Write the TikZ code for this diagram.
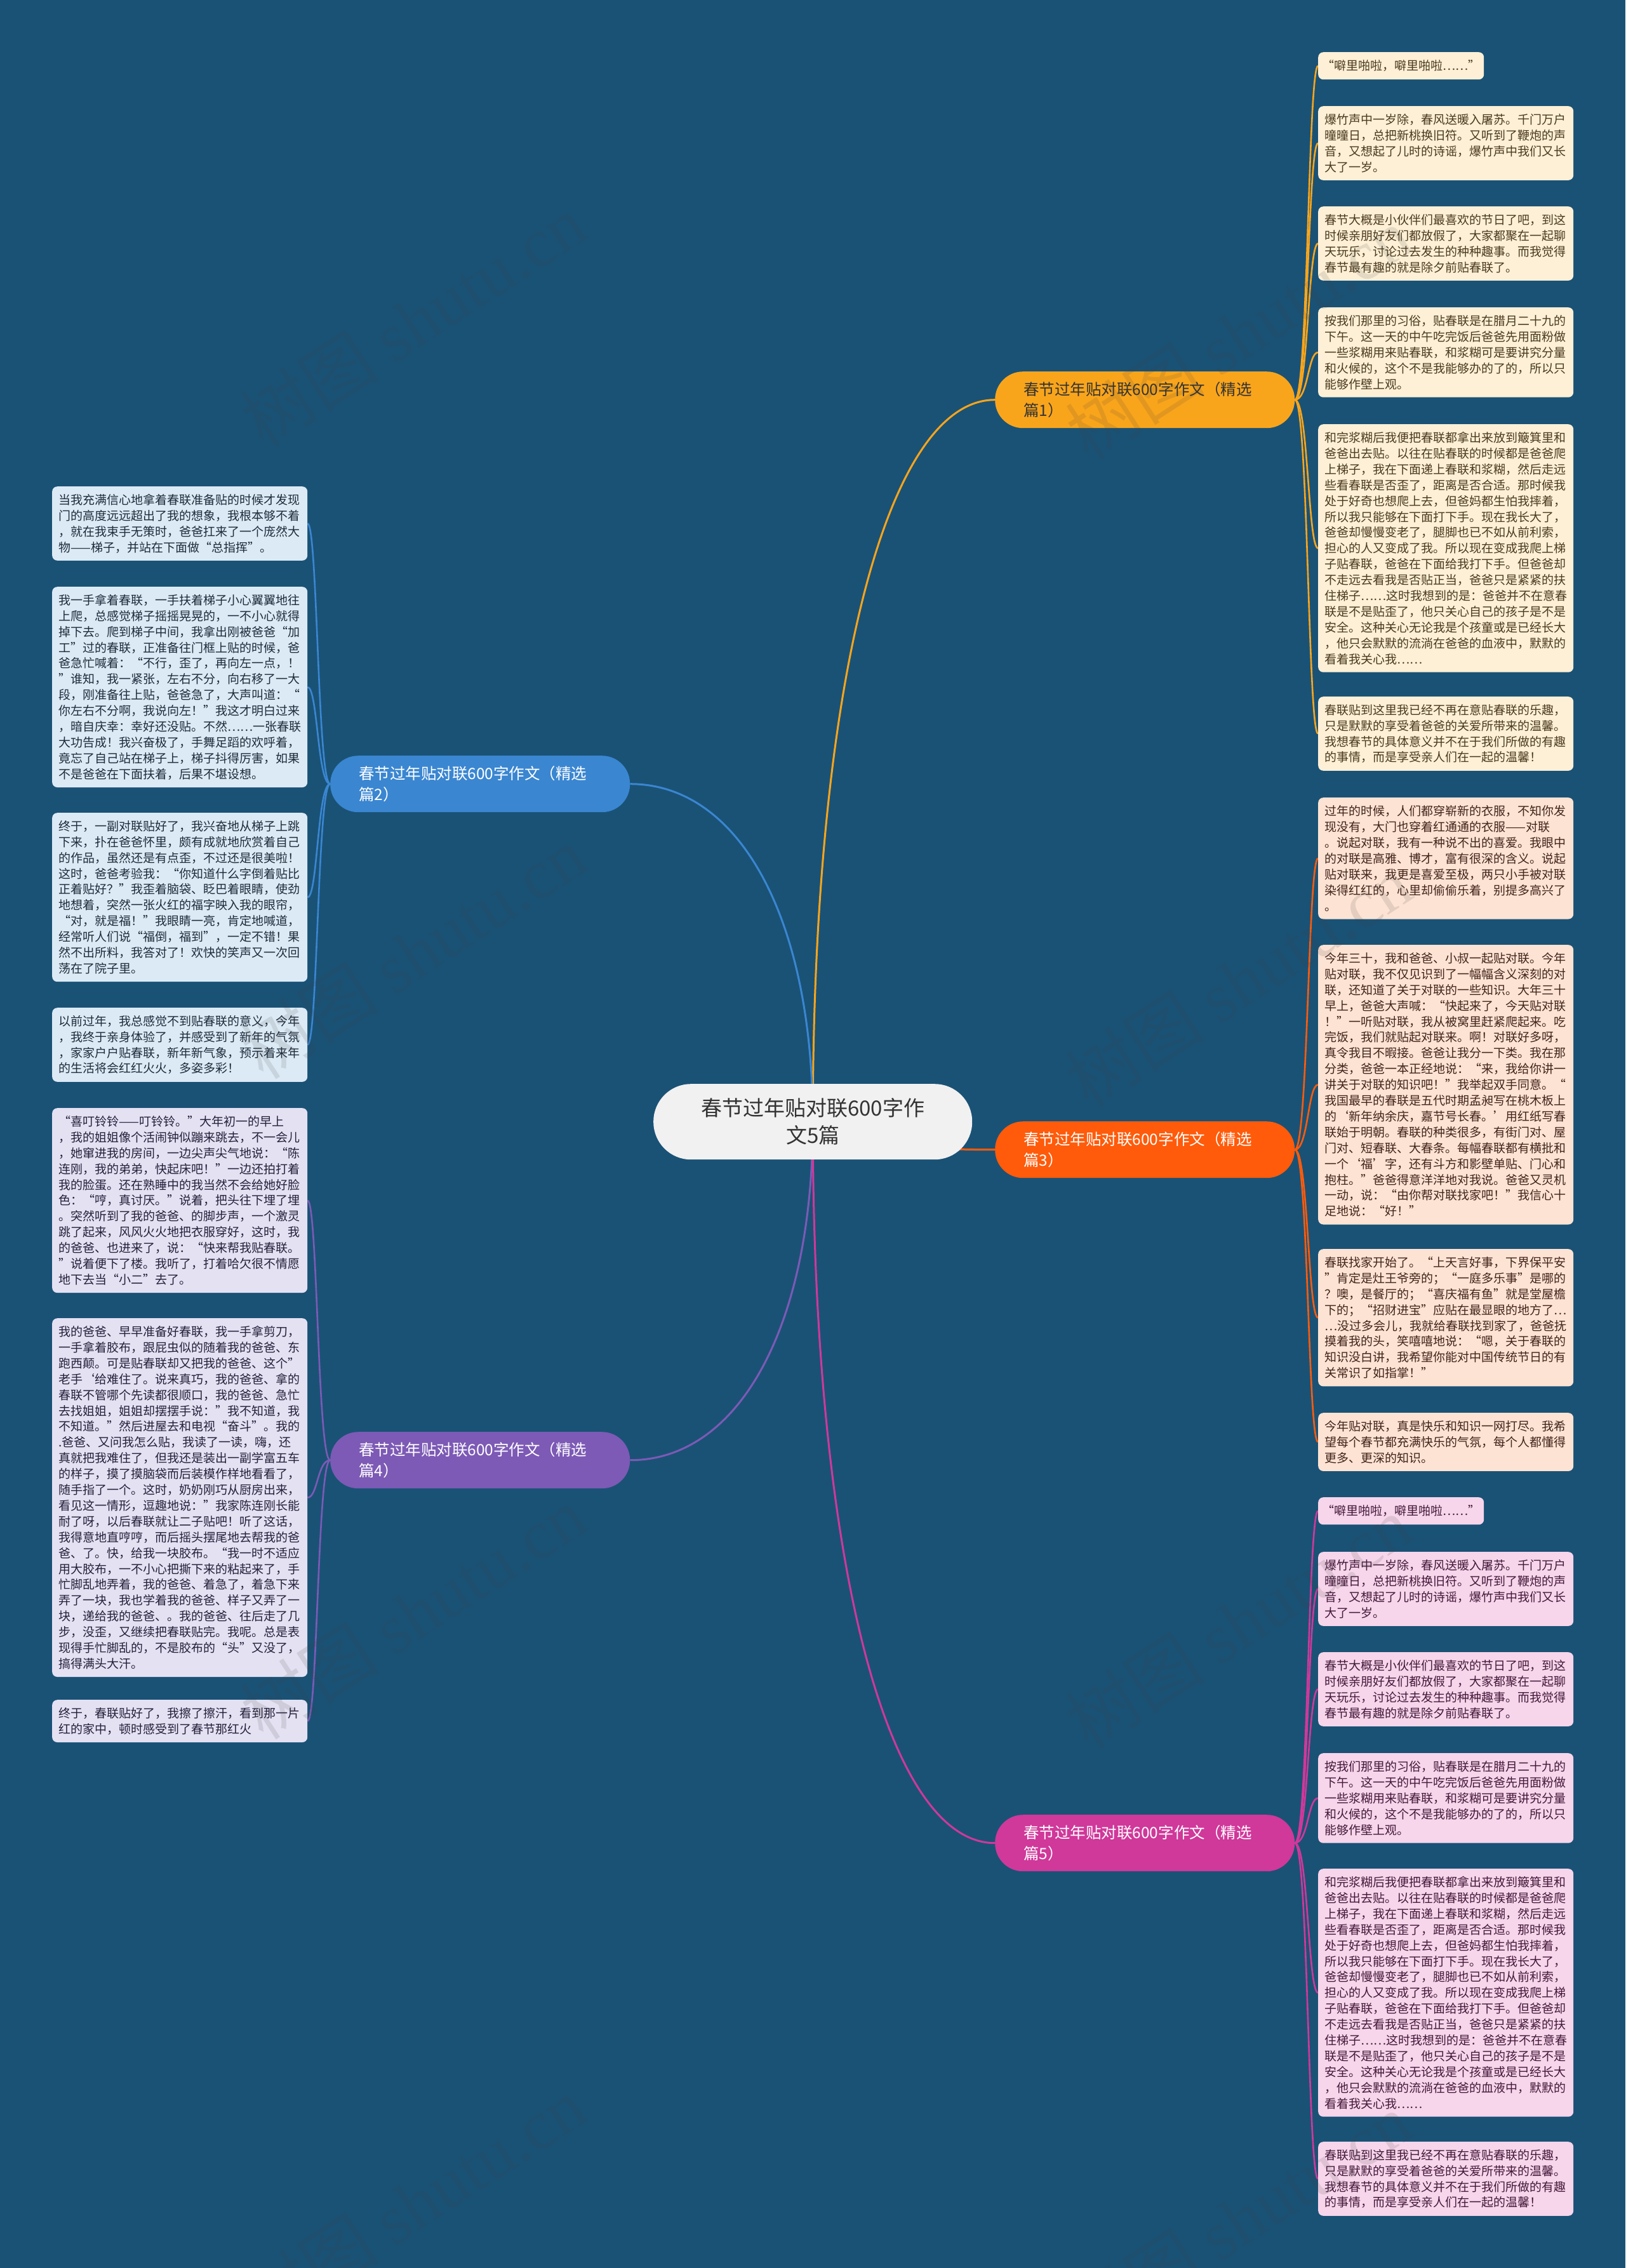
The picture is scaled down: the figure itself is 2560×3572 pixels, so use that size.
\documentclass[tikz,border=0pt]{standalone}
\usepackage{fontspec}
\setmainfont{Noto Sans CJK SC}
\newfontfamily\wmlatin{Liberation Serif}
\usetikzlibrary{calc}
\pgfdeclarelayer{back}
\pgfdeclarelayer{front}
\pgfsetlayers{back,main,front}
\definecolor{bgc}{HTML}{1A5276}
\definecolor{cA}{HTML}{F9A51B}
\definecolor{cB}{HTML}{3A86D1}
\definecolor{cC}{HTML}{FF5B0A}
\definecolor{cD}{HTML}{7C5AB5}
\definecolor{cE}{HTML}{D0389A}
\definecolor{fA}{HTML}{FDF0D6}
\definecolor{fB}{HTML}{DCEAF6}
\definecolor{fC}{HTML}{FDE3D3}
\definecolor{fD}{HTML}{E4E1F3}
\definecolor{fE}{HTML}{F7D5EA}
\definecolor{tA}{HTML}{4A3A1E}
\definecolor{tB}{HTML}{1E2B3A}
\definecolor{tC}{HTML}{42241A}
\definecolor{tD}{HTML}{24203A}
\definecolor{tE}{HTML}{43193A}
\definecolor{ctrf}{HTML}{F1F1F1}
\tikzset{
  leaf/.style={rectangle, rounded corners=8pt, text width=382pt, inner xsep=10pt, inner ysep=0pt,
    align=left, anchor=north west, font={\fontsize{19}{24.9}\selectfont}},
  nl/.style={minimum height={#1*24.9pt+17pt}},
  shortleaf/.style={rectangle, rounded corners=8pt, anchor=north west, minimum width=261pt,
    minimum height=43pt, inner sep=0pt, font={\fontsize{19}{24.9}\selectfont}},
  lA/.style={fill=fA, text=tA}, lB/.style={fill=fB, text=tB}, lC/.style={fill=fC, text=tC},
  lD/.style={fill=fD, text=tD}, lE/.style={fill=fE, text=tE},
  mainn/.style={rectangle, rounded corners=44pt, anchor=north west, text width=382pt,
    inner xsep=45pt, inner ysep=0pt, minimum height=89pt, align=left,
    font={\fontsize{24.5}{33}\selectfont}},
  ctrn/.style={rectangle, rounded corners=59pt, anchor=north west, minimum width=502pt,
    minimum height=119pt, align=center, fill=ctrf, text=black!80,
    font={\fontsize{33}{43}\selectfont}},
  lk/.style={line width=2.6pt},
  mk/.style={line width=3pt},
  wm/.style={rotate=33, text=black!75, opacity=0.13, font={\fontsize{110}{110}\selectfont}}
}
\begin{document}
\begin{tikzpicture}[x=1pt,y=-1pt]
\useasboundingbox (0,0) rectangle (2560,3572);

% center and main nodes
\node[ctrn] (ctr) at (1029,1707) {春节过年贴对联600字作\\文5篇};
\node[mainn, fill=cA, text=black!80] (n1) at (1567,585) {春节过年贴对联600字作文（精选\\篇1）};
\node[mainn, fill=cB, text=white] (n2) at (520,1190) {春节过年贴对联600字作文（精选\\篇2）};
\node[mainn, fill=cC, text=white] (n3) at (1567,1766) {春节过年贴对联600字作文（精选\\篇3）};
\node[mainn, fill=cD, text=white] (n4) at (520,2255) {春节过年贴对联600字作文（精选\\篇4）};
\node[mainn, fill=cE, text=white] (n5) at (1567,2858) {春节过年贴对联600字作文（精选\\篇5）};

% section 1
\node[shortleaf, lA] (r11) at (2076,82) {“噼里啪啦，噼里啪啦……”};
\node[leaf, lA, nl=4] (r12) at (2076,167) {爆竹声中一岁除，春风送暖入屠苏。千门万户\\曈曈日，总把新桃换旧符。又听到了鞭炮的声\\音，又想起了儿时的诗谣，爆竹声中我们又长\\大了一岁。};
\node[leaf, lA, nl=4] (r13) at (2076,325) {春节大概是小伙伴们最喜欢的节日了吧，到这\\时候亲朋好友们都放假了，大家都聚在一起聊\\天玩乐，讨论过去发生的种种趣事。而我觉得\\春节最有趣的就是除夕前贴春联了。};
\node[leaf, lA, nl=5] (r14) at (2076,484) {按我们那里的习俗，贴春联是在腊月二十九的\\下午。这一天的中午吃完饭后爸爸先用面粉做\\一些浆糊用来贴春联，和浆糊可是要讲究分量\\和火候的，这个不是我能够办的了的，所以只\\能够作壁上观。};
\node[leaf, lA, nl=15] (r15) at (2076,668) {和完浆糊后我便把春联都拿出来放到簸箕里和\\爸爸出去贴。以往在贴春联的时候都是爸爸爬\\上梯子，我在下面递上春联和浆糊，然后走远\\些看春联是否歪了，距离是否合适。那时候我\\处于好奇也想爬上去，但爸妈都生怕我摔着，\\所以我只能够在下面打下手。现在我长大了，\\爸爸却慢慢变老了，腿脚也已不如从前利索，\\担心的人又变成了我。所以现在变成我爬上梯\\子贴春联，爸爸在下面给我打下手。但爸爸却\\不走远去看我是否贴正当，爸爸只是紧紧的扶\\住梯子……这时我想到的是：爸爸并不在意春\\联是不是贴歪了，他只关心自己的孩子是不是\\安全。这种关心无论我是个孩童或是已经长大\\，他只会默默的流淌在爸爸的血液中，默默的\\看着我关心我……};
\node[leaf, lA, nl=4] (r16) at (2076,1097) {春联贴到这里我已经不再在意贴春联的乐趣，\\只是默默的享受着爸爸的关爱所带来的温馨。\\我想春节的具体意义并不在于我们所做的有趣\\的事情，而是享受亲人们在一起的温馨！};

% section 3
\node[leaf, lC, nl=7] (r31) at (2076,1256) {过年的时候，人们都穿崭新的衣服，不知你发\\现没有，大门也穿着红通通的衣服——对联\\。说起对联，我有一种说不出的喜爱。我眼中\\的对联是高雅、博才，富有很深的含义。说起\\贴对联来，我更是喜爱至极，两只小手被对联\\染得红红的，心里却偷偷乐着，别提多高兴了\\。};
\node[leaf, lC, nl=17] (r32) at (2076,1488) {今年三十，我和爸爸、小叔一起贴对联。今年\\贴对联，我不仅见识到了一幅幅含义深刻的对\\联，还知道了关于对联的一些知识。大年三十\\早上，爸爸大声喊：“快起来了，今天贴对联\\！”一听贴对联，我从被窝里赶紧爬起来。吃\\完饭，我们就贴起对联来。啊！对联好多呀，\\真令我目不暇接。爸爸让我分一下类。我在那\\分类，爸爸一本正经地说：“来，我给你讲一\\讲关于对联的知识吧！”我举起双手同意。“\\我国最早的春联是五代时期孟昶写在桃木板上\\的‘新年纳余庆，嘉节号长春。’用红纸写春\\联始于明朝。春联的种类很多，有街门对、屋\\门对、短春联、大春条。每幅春联都有横批和\\一个‘福’字，还有斗方和影壁单贴、门心和\\抱柱。”爸爸得意洋洋地对我说。爸爸又灵机\\一动，说：“由你帮对联找家吧！”我信心十\\足地说：“好！”};
\node[leaf, lC, nl=8] (r33) at (2076,1967) {春联找家开始了。“上天言好事，下界保平安\\”肯定是灶王爷旁的；“一庭多乐事”是哪的\\？噢，是餐厅的；“喜庆福有鱼”就是堂屋檐\\下的；“招财进宝”应贴在最显眼的地方了…\\…没过多会儿，我就给春联找到家了，爸爸抚\\摸着我的头，笑嘻嘻地说：“嗯，关于春联的\\知识没白讲，我希望你能对中国传统节日的有\\关常识了如指掌！”};
\node[leaf, lC, nl=3] (r34) at (2076,2225) {今年贴对联，真是快乐和知识一网打尽。我希\\望每个春节都充满快乐的气氛，每个人都懂得\\更多、更深的知识。};

% section 5
\node[shortleaf, lE] (r51) at (2076,2358) {“噼里啪啦，噼里啪啦……”};
\node[leaf, lE, nl=4] (r52) at (2076,2444) {爆竹声中一岁除，春风送暖入屠苏。千门万户\\曈曈日，总把新桃换旧符。又听到了鞭炮的声\\音，又想起了儿时的诗谣，爆竹声中我们又长\\大了一岁。};
\node[leaf, lE, nl=4] (r53) at (2076,2602) {春节大概是小伙伴们最喜欢的节日了吧，到这\\时候亲朋好友们都放假了，大家都聚在一起聊\\天玩乐，讨论过去发生的种种趣事。而我觉得\\春节最有趣的就是除夕前贴春联了。};
\node[leaf, lE, nl=5] (r54) at (2076,2761) {按我们那里的习俗，贴春联是在腊月二十九的\\下午。这一天的中午吃完饭后爸爸先用面粉做\\一些浆糊用来贴春联，和浆糊可是要讲究分量\\和火候的，这个不是我能够办的了的，所以只\\能够作壁上观。};
\node[leaf, lE, nl=15] (r55) at (2076,2943) {和完浆糊后我便把春联都拿出来放到簸箕里和\\爸爸出去贴。以往在贴春联的时候都是爸爸爬\\上梯子，我在下面递上春联和浆糊，然后走远\\些看春联是否歪了，距离是否合适。那时候我\\处于好奇也想爬上去，但爸妈都生怕我摔着，\\所以我只能够在下面打下手。现在我长大了，\\爸爸却慢慢变老了，腿脚也已不如从前利索，\\担心的人又变成了我。所以现在变成我爬上梯\\子贴春联，爸爸在下面给我打下手。但爸爸却\\不走远去看我是否贴正当，爸爸只是紧紧的扶\\住梯子……这时我想到的是：爸爸并不在意春\\联是不是贴歪了，他只关心自己的孩子是不是\\安全。这种关心无论我是个孩童或是已经长大\\，他只会默默的流淌在爸爸的血液中，默默的\\看着我关心我……};
\node[leaf, lE, nl=4] (r56) at (2076,3373) {春联贴到这里我已经不再在意贴春联的乐趣，\\只是默默的享受着爸爸的关爱所带来的温馨。\\我想春节的具体意义并不在于我们所做的有趣\\的事情，而是享受亲人们在一起的温馨！};

% section 2 (left)
\node[leaf, lB, nl=4] (l21) at (82,766) {当我充满信心地拿着春联准备贴的时候才发现\\门的高度远远超出了我的想象，我根本够不着\\，就在我束手无策时，爸爸扛来了一个庞然大\\物——梯子，并站在下面做“总指挥”。};
\node[leaf, lB, nl=12] (l22) at (82,924) {我一手拿着春联，一手扶着梯子小心翼翼地往\\上爬，总感觉梯子摇摇晃晃的，一不小心就得\\掉下去。爬到梯子中间，我拿出刚被爸爸“加\\工”过的春联，正准备往门框上贴的时候，爸\\爸急忙喊着：“不行，歪了，再向左一点，！\\”谁知，我一紧张，左右不分，向右移了一大\\段，刚准备往上贴，爸爸急了，大声叫道：“\\你左右不分啊，我说向左！”我这才明白过来\\，暗自庆幸：幸好还没贴。不然……一张春联\\大功告成！我兴奋极了，手舞足蹈的欢呼着，\\竟忘了自己站在梯子上，梯子抖得厉害，如果\\不是爸爸在下面扶着，后果不堪设想。};
\node[leaf, lB, nl=10] (l23) at (82,1280) {终于，一副对联贴好了，我兴奋地从梯子上跳\\下来，扑在爸爸怀里，颇有成就地欣赏着自己\\的作品，虽然还是有点歪，不过还是很美啦！\\这时，爸爸考验我：“你知道什么字倒着贴比\\正着贴好？”我歪着脑袋、眨巴着眼睛，使劲\\地想着，突然一张火红的福字映入我的眼帘，\\“对，就是福！”我眼睛一亮，肯定地喊道，\\经常听人们说“福倒，福到”，一定不错！果\\然不出所料，我答对了！欢快的笑声又一次回\\荡在了院子里。};
\node[leaf, lB, nl=4] (l24) at (82,1587) {以前过年，我总感觉不到贴春联的意义，今年\\，我终于亲身体验了，并感受到了新年的气氛\\，家家户户贴春联，新年新气象，预示着来年\\的生活将会红红火火，多姿多彩！};

% section 4 (left)
\node[leaf, lD, nl=11] (l41) at (82,1745) {“喜叮铃铃——叮铃铃。”大年初一的早上\\，我的姐姐像个活闹钟似蹦来跳去，不一会儿\\，她窜进我的房间，一边尖声尖气地说：“陈\\连刚，我的弟弟，快起床吧！”一边还拍打着\\我的脸蛋。还在熟睡中的我当然不会给她好脸\\色：“哼，真讨厌。”说着，把头往下埋了埋\\。突然听到了我的爸爸、的脚步声，一个激灵\\跳了起来，风风火火地把衣服穿好，这时，我\\的爸爸、也进来了，说：“快来帮我贴春联。\\”说着便下了楼。我听了，打着哈欠很不情愿\\地下去当“小二”去了。};
\node[leaf, lD, nl=22] (l42) at (82,2076) {我的爸爸、早早准备好春联，我一手拿剪刀，\\一手拿着胶布，跟屁虫似的随着我的爸爸、东\\跑西颠。可是贴春联却又把我的爸爸、这个”\\老手‘给难住了。说来真巧，我的爸爸、拿的\\春联不管哪个先读都很顺口，我的爸爸、急忙\\去找姐姐，姐姐却摆摆手说：”我不知道，我\\不知道。”然后进屋去和电视“奋斗”。我的\\.爸爸、又问我怎么贴，我读了一读，嗨，还\\真就把我难住了，但我还是装出一副学富五车\\的样子，摸了摸脑袋而后装模作样地看看了，\\随手指了一个。这时，奶奶刚巧从厨房出来，\\看见这一情形，逗趣地说：”我家陈连刚长能\\耐了呀，以后春联就让二子贴吧！听了这话，\\我得意地直哼哼，而后摇头摆尾地去帮我的爸\\爸、了。快，给我一块胶布。“我一时不适应\\用大胶布，一不小心把撕下来的粘起来了，手\\忙脚乱地弄着，我的爸爸、着急了，着急下来\\弄了一块，我也学着我的爸爸、样子又弄了一\\块，递给我的爸爸、。我的爸爸、往后走了几\\步，没歪，又继续把春联贴完。我呢。总是表\\现得手忙脚乱的，不是胶布的“头”又没了，\\搞得满头大汗。};
\node[leaf, lD, nl=2] (l43) at (82,2677) {终于，春联贴好了，我擦了擦汗，看到那一片\\红的家中，顿时感受到了春节那红火};

\begin{pgfonlayer}{back}
\fill[bgc] (0,0) rectangle (2560,3572);
% main connectors
\draw[mk, cA] (ctr.center) .. controls ($(ctr.center)!0.6!(ctr.center|-n1.west)$) and ($(n1.west)!0.6!(ctr.center|-n1.west)$) .. (n1.west);
\draw[mk, cB] (ctr.center) .. controls ($(ctr.center)!0.6!(ctr.center|-n2.east)$) and ($(n2.east)!0.6!(ctr.center|-n2.east)$) .. (n2.east);
\draw[mk, cC] (ctr.center) .. controls ($(ctr.center)!0.6!(ctr.center|-n3.west)$) and ($(n3.west)!0.6!(ctr.center|-n3.west)$) .. (n3.west);
\draw[mk, cD] (ctr.center) .. controls ($(ctr.center)!0.6!(ctr.center|-n4.east)$) and ($(n4.east)!0.6!(ctr.center|-n4.east)$) .. (n4.east);
\draw[mk, cE] (ctr.center) .. controls ($(ctr.center)!0.6!(ctr.center|-n5.west)$) and ($(n5.west)!0.6!(ctr.center|-n5.west)$) .. (n5.west);
% leaf connectors
\foreach \l in {r11,r12,r13,r14,r15,r16}
  \draw[lk, cA] (n1.east) .. controls ($(n1.east)+(21,0)$) and ($(\l.west)+(-16,0)$) .. (\l.west);
\foreach \l in {r31,r32,r33,r34}
  \draw[lk, cC] (n3.east) .. controls ($(n3.east)+(21,0)$) and ($(\l.west)+(-16,0)$) .. (\l.west);
\foreach \l in {r51,r52,r53,r54,r55,r56}
  \draw[lk, cE] (n5.east) .. controls ($(n5.east)+(21,0)$) and ($(\l.west)+(-16,0)$) .. (\l.west);
\foreach \l in {l21,l22,l23,l24}
  \draw[lk, cB] (n2.west) .. controls ($(n2.west)+(-20,0)$) and ($(\l.east)+(16,0)$) .. (\l.east);
\foreach \l in {l41,l42,l43}
  \draw[lk, cD] (n4.west) .. controls ($(n4.west)+(-20,0)$) and ($(\l.east)+(16,0)$) .. (\l.east);
\end{pgfonlayer}

\begin{pgfonlayer}{front}
\foreach \wx/\wy in {650/505, 1950/525, 650/1500, 1950/1545, 650/2540, 1950/2555, 650/3470, 1950/3495}
  \node[wm] (wm-\wx-\wy) at (\wx,\wy) {树图 {\wmlatin shutu.cn}};
\end{pgfonlayer}
\end{tikzpicture}
\end{document}
